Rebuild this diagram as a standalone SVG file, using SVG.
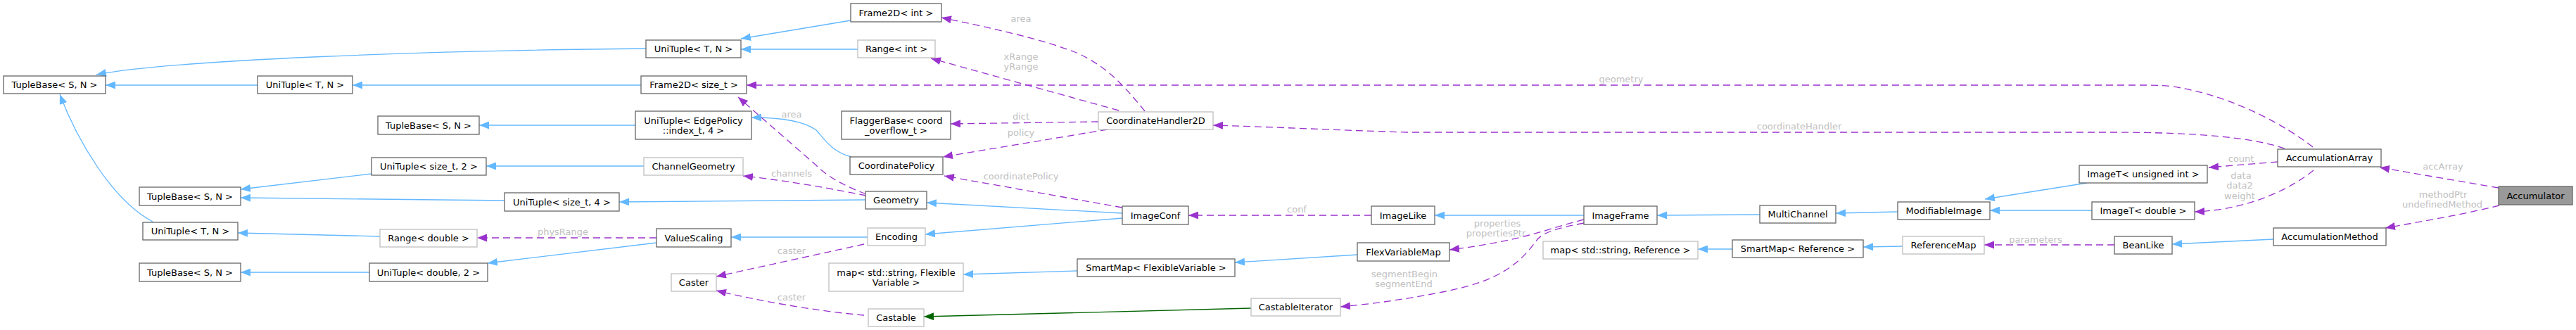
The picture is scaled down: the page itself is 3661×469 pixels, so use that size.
<svg xmlns="http://www.w3.org/2000/svg" width="3661" height="469" viewBox="0 0 3661 469">
<style>
.n{fill:#fff;stroke:#666;stroke-width:1.3}
.nl{fill:#fff;stroke:#bfbfbf;stroke-width:1.3}
.acc{fill:#999;stroke:#666;stroke-width:1.3}
text{font-family:"DejaVu Sans","Liberation Sans",sans-serif;font-size:13px;fill:#000}
.t{text-anchor:middle}
.lbl{text-anchor:middle;fill:#c0c0c0}
.inh{fill:none;stroke:#63b8ff;stroke-width:1.3}
.use{fill:none;stroke:#9a32cd;stroke-width:1.3;stroke-dasharray:10,6}
.tpl{fill:none;stroke:#006400;stroke-width:1.3}
</style>
<defs>
<marker id="ab" markerUnits="userSpaceOnUse" markerWidth="14" markerHeight="11" refX="14" refY="5.5" orient="auto"><path d="M0,0 L14,5.5 L0,11 z" fill="#63b8ff"/></marker>
<marker id="ap" markerUnits="userSpaceOnUse" markerWidth="14" markerHeight="11" refX="14" refY="5.5" orient="auto"><path d="M0,0 L14,5.5 L0,11 z" fill="#9a32cd"/></marker>
<marker id="ag" markerUnits="userSpaceOnUse" markerWidth="14" markerHeight="11" refX="14" refY="5.5" orient="auto"><path d="M0,0 L14,5.5 L0,11 z" fill="#006400"/></marker>
</defs>
<rect width="3661" height="469" fill="#fff"/>
<g id="edges">
<path class="inh" marker-end="url(#ab)" d="M366,121 L150,121"/>
<path class="inh" marker-end="url(#ab)" d="M918,69 C600,72 250,85 137,106"/>
<path class="inh" marker-end="url(#ab)" d="M911,121 L501,121"/>
<path class="inh" marker-end="url(#ab)" d="M217,315 C160,285 110,200 85,134"/>
<path class="inh" marker-end="url(#ab)" d="M903,178 L681,178"/>
<path class="inh" marker-end="url(#ab)" d="M1209,29 L1053,55"/>
<path class="inh" marker-end="url(#ab)" d="M1219,70 L1053,70"/>
<path class="inh" marker-end="url(#ab)" d="M1210,223 C1180,215 1170,195 1160,185 C1140,170 1100,167 1068,167"/>
<path class="inh" marker-end="url(#ab)" d="M528,247 L342,269"/>
<path class="inh" marker-end="url(#ab)" d="M915,236 L691,236"/>
<path class="inh" marker-end="url(#ab)" d="M717,285 L342,281"/>
<path class="inh" marker-end="url(#ab)" d="M1230,284 L880,287"/>
<path class="inh" marker-end="url(#ab)" d="M540,336 L338,331"/>
<path class="inh" marker-end="url(#ab)" d="M525,387 L342,387"/>
<path class="inh" marker-end="url(#ab)" d="M933,345 L693,374"/>
<path class="inh" marker-end="url(#ab)" d="M1233,337 L1039,337"/>
<path class="inh" marker-end="url(#ab)" d="M1595,303 L1317,288"/>
<path class="inh" marker-end="url(#ab)" d="M1595,310 L1315,333"/>
<path class="inh" marker-end="url(#ab)" d="M1531,385 L1369,390"/>
<path class="inh" marker-end="url(#ab)" d="M1929,362 L1755,373"/>
<path class="tpl" marker-end="url(#ag)" d="M1778,438 L1313,450"/>
<path class="inh" marker-end="url(#ab)" d="M2251,306 L2039,306"/>
<path class="inh" marker-end="url(#ab)" d="M2501,305 L2355,306"/>
<path class="inh" marker-end="url(#ab)" d="M2697,301 L2609,303"/>
<path class="inh" marker-end="url(#ab)" d="M2966,260 L2821,283"/>
<path class="inh" marker-end="url(#ab)" d="M2973,299 L2828,299"/>
<path class="inh" marker-end="url(#ab)" d="M2462,354 L2413,354"/>
<path class="inh" marker-end="url(#ab)" d="M2704,350 L2648,351"/>
<path class="inh" marker-end="url(#ab)" d="M3231,340 L3087,347"/>
<path class="use" marker-end="url(#ap)" d="M1627,158 C1600,125 1575,95 1530,75 C1480,55 1400,38 1338,25"/>
<text class="lbl" x="1451" y="31">area</text>
<path class="use" marker-end="url(#ap)" d="M1590,157 L1323,83"/>
<text class="lbl" x="1451" y="85">xRange</text>
<text class="lbl" x="1451" y="99">yRange</text>
<path class="use" marker-end="url(#ap)" d="M3287,209 C3250,180 3180,140 3100,125 C3080,121 3060,121 3040,121 L1061,121"/>
<text class="lbl" x="2304" y="117">geometry</text>
<path class="use" marker-end="url(#ap)" d="M1231,276 C1195,262 1175,250 1160,235 L1049,138"/>
<text class="lbl" x="1125" y="167">area</text>
<path class="use" marker-end="url(#ap)" d="M1231,278 C1190,270 1130,258 1056,250"/>
<text class="lbl" x="1125" y="251">channels</text>
<path class="use" marker-end="url(#ap)" d="M1561,173 L1351,176"/>
<text class="lbl" x="1451" y="170">dict</text>
<path class="use" marker-end="url(#ap)" d="M1574,184 L1340,223"/>
<text class="lbl" x="1451" y="193">policy</text>
<path class="use" marker-end="url(#ap)" d="M3247,211 C3200,195 3120,188 3000,188 L2000,188 C1900,185 1800,180 1724,178"/>
<text class="lbl" x="2557" y="184">coordinateHandler</text>
<path class="use" marker-end="url(#ap)" d="M1595,295 L1342,250"/>
<text class="lbl" x="1451" y="255">coordinatePolicy</text>
<path class="use" marker-end="url(#ap)" d="M933,338 L678,338"/>
<text class="lbl" x="800" y="334">physRange</text>
<path class="use" marker-end="url(#ap)" d="M1228,347 L1018,393"/>
<text class="lbl" x="1125" y="361">caster</text>
<path class="use" marker-end="url(#ap)" d="M1228,448 C1160,442 1080,428 1018,413"/>
<text class="lbl" x="1125" y="427">caster</text>
<path class="use" marker-end="url(#ap)" d="M1949,306 L1689,306"/>
<text class="lbl" x="1843" y="302">conf</text>
<path class="use" marker-end="url(#ap)" d="M2251,312 C2220,320 2190,330 2170,335 C2130,345 2100,350 2060,355"/>
<text class="lbl" x="2128" y="322">properties</text>
<text class="lbl" x="2126" y="336">propertiesPtr</text>
<path class="use" marker-end="url(#ap)" d="M2251,317 C2210,325 2195,330 2185,340 C2160,375 2130,400 2050,415 C2000,425 1950,432 1905,436"/>
<text class="lbl" x="1996" y="394">segmentBegin</text>
<text class="lbl" x="1995" y="408">segmentEnd</text>
<path class="use" marker-end="url(#ap)" d="M3005,348 L2820,348"/>
<text class="lbl" x="2893" y="345">parameters</text>
<path class="use" marker-end="url(#ap)" d="M3237,230 L3139,238"/>
<text class="lbl" x="3185" y="230">count</text>
<path class="use" marker-end="url(#ap)" d="M3288,242 C3260,265 3200,298 3119,301"/>
<text class="lbl" x="3185" y="254">data</text>
<text class="lbl" x="3183" y="268">data2</text>
<text class="lbl" x="3183" y="283">weight</text>
<path class="use" marker-end="url(#ap)" d="M3551,267 L3382,238"/>
<text class="lbl" x="3472" y="241">accArray</text>
<path class="use" marker-end="url(#ap)" d="M3552,292 C3500,305 3440,315 3390,324"/>
<text class="lbl" x="3472" y="281">methodPtr</text>
<text class="lbl" x="3471" y="295">undefinedMethod</text>
</g>
<g id="tuplebase1"><rect class="n" x="5" y="108" width="145" height="25"/><text class="t" x="77.5" y="125">TupleBase&lt; S, N &gt;</text></g>
<g id="unituple1"><rect class="n" x="366" y="108" width="135" height="25"/><text class="t" x="433.5" y="125">UniTuple&lt; T, N &gt;</text></g>
<g id="unituple3"><rect class="n" x="918" y="57" width="135" height="25"/><text class="t" x="985.5" y="74">UniTuple&lt; T, N &gt;</text></g>
<g id="frame2d_int"><rect class="n" x="1209" y="5" width="129" height="26"/><text class="t" x="1273.5" y="22.5">Frame2D&lt; int &gt;</text></g>
<g id="range_int"><rect class="nl" x="1219" y="57" width="110" height="25"/><text class="t" x="1274" y="74">Range&lt; int &gt;</text></g>
<g id="frame2d_size"><rect class="n" x="911" y="108" width="150" height="25"/><text class="t" x="986" y="125">Frame2D&lt; size_t &gt;</text></g>
<g id="tuplebase2"><rect class="n" x="537" y="165" width="144" height="26"/><text class="t" x="609" y="182.5">TupleBase&lt; S, N &gt;</text></g>
<g id="unituple_edge"><rect class="n" x="903" y="158" width="165" height="40"/><text class="t" x="985.5" y="175.5">UniTuple&lt; EdgePolicy</text><text class="t" x="985.5" y="189.5">::index_t, 4 &gt;</text></g>
<g id="flaggerbase"><rect class="n" x="1196" y="158" width="155" height="40"/><text class="t" x="1273.5" y="175.5">FlaggerBase&lt; coord</text><text class="t" x="1273.5" y="189.5">_overflow_t &gt;</text></g>
<g id="coordhandler"><rect class="nl" x="1561" y="159" width="163" height="25"/><text class="t" x="1642.5" y="176">CoordinateHandler2D</text></g>
<g id="coordpolicy"><rect class="n" x="1208" y="223" width="132" height="25"/><text class="t" x="1274" y="240">CoordinatePolicy</text></g>
<g id="unituple_size2"><rect class="n" x="528" y="224" width="163" height="25"/><text class="t" x="609.5" y="241">UniTuple&lt; size_t, 2 &gt;</text></g>
<g id="channelgeometry"><rect class="nl" x="915" y="224" width="141" height="25"/><text class="t" x="985.5" y="241">ChannelGeometry</text></g>
<g id="tuplebase3"><rect class="n" x="198" y="266" width="144" height="26"/><text class="t" x="270" y="283.5">TupleBase&lt; S, N &gt;</text></g>
<g id="unituple_size4"><rect class="n" x="717" y="274" width="163" height="26"/><text class="t" x="798.5" y="291.5">UniTuple&lt; size_t, 4 &gt;</text></g>
<g id="geometry"><rect class="n" x="1230" y="272" width="87" height="25"/><text class="t" x="1273.5" y="289">Geometry</text></g>
<g id="imageconf"><rect class="n" x="1595" y="293" width="94" height="26"/><text class="t" x="1642" y="310.5">ImageConf</text></g>
<g id="unituple2"><rect class="n" x="203" y="316" width="135" height="25"/><text class="t" x="270.5" y="333">UniTuple&lt; T, N &gt;</text></g>
<g id="range_double"><rect class="nl" x="540" y="326" width="138" height="25"/><text class="t" x="609" y="343">Range&lt; double &gt;</text></g>
<g id="valuescaling"><rect class="n" x="933" y="325" width="106" height="26"/><text class="t" x="986" y="342.5">ValueScaling</text></g>
<g id="encoding"><rect class="nl" x="1233" y="324" width="82" height="25"/><text class="t" x="1274" y="341">Encoding</text></g>
<g id="tuplebase4"><rect class="n" x="198" y="374" width="144" height="26"/><text class="t" x="270" y="391.5">TupleBase&lt; S, N &gt;</text></g>
<g id="unituple_double2"><rect class="n" x="525" y="374" width="168" height="26"/><text class="t" x="609" y="391.5">UniTuple&lt; double, 2 &gt;</text></g>
<g id="caster"><rect class="nl" x="954" y="389" width="64" height="25"/><text class="t" x="986" y="406">Caster</text></g>
<g id="map_flex"><rect class="nl" x="1178" y="374" width="191" height="40"/><text class="t" x="1273.5" y="391.5">map&lt; std::string, Flexible</text><text class="t" x="1273.5" y="405.5">Variable &gt;</text></g>
<g id="smartmap_flex"><rect class="n" x="1531" y="368" width="224" height="25"/><text class="t" x="1643" y="385">SmartMap&lt; FlexibleVariable &gt;</text></g>
<g id="castable"><rect class="nl" x="1234" y="439" width="79" height="25"/><text class="t" x="1273.5" y="456">Castable</text></g>
<g id="imagelike"><rect class="n" x="1949" y="293" width="90" height="26"/><text class="t" x="1994" y="310.5">ImageLike</text></g>
<g id="flexvariablemap"><rect class="n" x="1929" y="345" width="131" height="26"/><text class="t" x="1994.5" y="362.5">FlexVariableMap</text></g>
<g id="castableiterator"><rect class="nl" x="1778" y="424" width="127" height="25"/><text class="t" x="1841.5" y="441">CastableIterator</text></g>
<g id="imageframe"><rect class="n" x="2251" y="293" width="104" height="26"/><text class="t" x="2303" y="310.5">ImageFrame</text></g>
<g id="map_ref"><rect class="nl" x="2193" y="343" width="220" height="25"/><text class="t" x="2303" y="360">map&lt; std::string, Reference &gt;</text></g>
<g id="multichannel"><rect class="n" x="2501" y="292" width="108" height="25"/><text class="t" x="2555" y="309">MultiChannel</text></g>
<g id="smartmap_ref"><rect class="n" x="2462" y="341" width="186" height="25"/><text class="t" x="2555" y="358">SmartMap&lt; Reference &gt;</text></g>
<g id="modifiableimage"><rect class="n" x="2697" y="287" width="131" height="25"/><text class="t" x="2762.5" y="304">ModifiableImage</text></g>
<g id="referencemap"><rect class="nl" x="2704" y="336" width="116" height="25"/><text class="t" x="2762" y="353">ReferenceMap</text></g>
<g id="imaget_uint"><rect class="n" x="2955" y="235" width="182" height="25"/><text class="t" x="3046" y="252">ImageT&lt; unsigned int &gt;</text></g>
<g id="imaget_double"><rect class="n" x="2973" y="287" width="146" height="25"/><text class="t" x="3046" y="304">ImageT&lt; double &gt;</text></g>
<g id="beanlike"><rect class="n" x="3005" y="336" width="82" height="25"/><text class="t" x="3046" y="353">BeanLike</text></g>
<g id="accumulationarray"><rect class="n" x="3237" y="212" width="147" height="25"/><text class="t" x="3310.5" y="229">AccumulationArray</text></g>
<g id="accumulationmethod"><rect class="n" x="3231" y="324" width="160" height="25"/><text class="t" x="3311" y="341">AccumulationMethod</text></g>
<g id="accumulator"><rect class="acc" x="3551" y="265" width="105" height="26"/><text class="t" x="3603.5" y="282.5">Accumulator</text></g>
</svg>
